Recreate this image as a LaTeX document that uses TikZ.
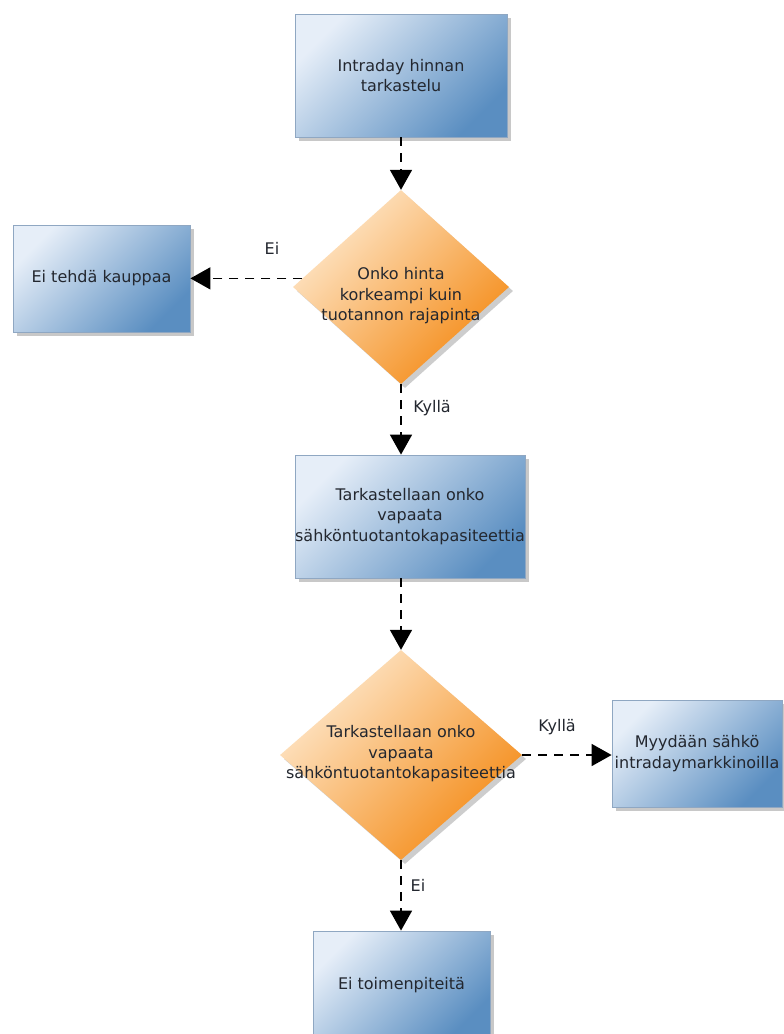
\documentclass[tikz,border=0pt]{standalone}
\usepackage{fontspec}
\setmainfont{DejaVu Sans}
\usetikzlibrary{shapes.geometric,arrows.meta,shadows}
\definecolor{blueA}{HTML}{E6EEF8}
\definecolor{blueM}{HTML}{B6CDE5}
\definecolor{blueB}{HTML}{5A8EC1}
\definecolor{boxline}{HTML}{8FA7C2}
\definecolor{orA}{HTML}{FEE8CC}
\definecolor{orM}{HTML}{F9B565}
\definecolor{orB}{HTML}{F48B17}
\definecolor{txtc}{HTML}{23272F}
\begin{document}
\begin{tikzpicture}[x=1pt,y=-1pt,
  font=\fontsize{16}{20.5}\selectfont,
  proc/.style={rectangle, draw=boxline, line width=0.8pt, shading=axis,
    top color=blueA, middle color=blueM, bottom color=blueB, shading angle=45,
    drop shadow={shadow xshift=4pt,shadow yshift=-4pt,opacity=0.3,fill=black!70},
    inner sep=0pt, text=txtc, align=center},
  dec/.style={diamond, draw=none, shading=axis,
    top color=orA, middle color=orM, bottom color=orB, shading angle=45,
    drop shadow={shadow xshift=4pt,shadow yshift=-4pt,opacity=0.28,fill=black!70},
    inner sep=0pt},
  dtext/.style={text=txtc, align=center, inner sep=0pt},
  lbl/.style={text=txtc, inner sep=0pt},
  flow/.style={draw=black, line width=1.6pt, dash pattern=on 9pt off 7pt,
    -{Triangle[width=22pt,length=20pt]}}
]
\clip (0,0) rectangle (784,1034);
\fill[white] (0,0) rectangle (784,1034);

% nodes
\node[proc, minimum width=212pt, minimum height=123pt] (B1) at (401,75.5)
  {Intraday hinnan\\tarkastelu};
\node[dec, minimum width=216pt, minimum height=194pt] (D1) at (401,287) {};
\node[dtext] (T1) at (401,296) {Onko hinta\\korkeampi kuin\\tuotannon rajapinta};
\node[proc, minimum width=177pt, minimum height=107pt] (B2) at (101.5,278.5)
  {Ei tehdä kauppaa};
\node[proc, minimum width=230pt, minimum height=123pt] (B3) at (410,516.5)
  {Tarkastellaan onko\\vapaata\\sähköntuotantokapasiteettia};
\node[dec, minimum width=242pt, minimum height=210pt] (D2) at (401,755) {};
\node[dtext] (T2) at (401,754) {Tarkastellaan onko\\vapaata\\sähköntuotantokapasiteettia};
\node[proc, minimum width=170pt, minimum height=107pt] (B4) at (697,753.5)
  {Myydään sähkö\\intradaymarkkinoilla};
\node[proc, minimum width=177pt, minimum height=108pt] (B5) at (401.5,985)
  {Ei toimenpiteitä};

% connectors
\draw[flow] (B1.south -| D1.north) -- (D1.north);
\draw[flow] (D1.175) -- (D1.175 -| B2.east);
\draw[flow] (D1.south) -- (D1.south |- B3.north);
\draw[flow] (D2.north |- B3.south) -- (D2.north);
\draw[flow] (D2.east) -- (D2.east -| B4.west);
\draw[flow] (D2.south) -- (D2.south |- B5.north);

% labels
\node[lbl] (L1) at (272,248) {Ei};
\node[lbl] (L2) at (432,408) {Kyllä};
\node[lbl] (L3) at (557,727) {Kyllä};
\node[lbl] (L4) at (418,885) {Ei};
\end{tikzpicture}
\end{document}
